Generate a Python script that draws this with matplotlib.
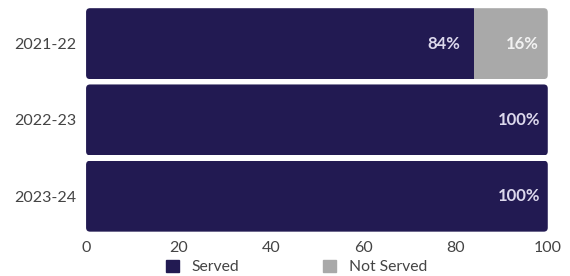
import matplotlib.pyplot as plt
from matplotlib.patches import FancyBboxPatch, Patch

plt.rcParams['font.family'] = ['Lato', 'DejaVu Sans']

years = ['2021-22', '2022-23', '2023-24']
served = [84, 100, 100]
not_served = [16, 0, 0]
served_labels = ['84%', '100%', '100%']
not_served_labels = ['16%', '', '']

navy = '#221a52'
grey = '#a9a9a9'

fig = plt.figure(figsize=(5.7, 2.76), dpi=100)
ax = fig.add_axes([0.151, 0.151, 0.81, 0.829])

ypos = range(len(years))
h = 0.93
b1 = ax.barh(ypos, served, height=h, color=navy, edgecolor='none')
b2 = ax.barh(ypos, not_served, left=served, height=h, color=grey, edgecolor='none')

ax.set_xlim(0, 100)
ax.set_ylim(2.5, -0.5)

# rounded outline per row, used as clip path
fig.canvas.draw()
x_per_px = 100 / ax.bbox.width
y_per_px = 3 / ax.bbox.height
r_px = 4
for i in ypos:
    total = served[i] + not_served[i]
    box = FancyBboxPatch((0, i - h / 2), total, h,
                         boxstyle=f'round,pad=0,rounding_size={r_px * x_per_px}',
                         mutation_aspect=y_per_px / x_per_px,
                         transform=ax.transData, facecolor='none', edgecolor='none')
    ax.add_patch(box)
    b1[i].set_clip_path(box)
    b2[i].set_clip_path(box)

# value labels
for i in ypos:
    pad = 3 if not_served[i] else 1.6
    ax.text(served[i] - pad, i, served_labels[i], ha='right', va='center',
            color='#dcd8ec', fontsize=12, fontweight='bold')
    if not_served[i]:
        ax.text(served[i] + not_served[i] - 2, i, not_served_labels[i],
                ha='right', va='center', color='#f2f2f2', fontsize=12,
                fontweight='bold')

ax.set_yticks(list(ypos))
ax.set_yticklabels(years)
ax.set_xticks([0, 20, 40, 60, 80, 100])
ax.tick_params(length=0, labelsize=11.5, colors='#444444', pad=5)
ax.tick_params(axis='y', pad=7)
for s in ax.spines.values():
    s.set_visible(False)

handles = [Patch(color=navy, label='Served'), Patch(color=grey, label='Not Served')]
fig.legend(handles=handles, loc='lower center', bbox_to_anchor=(0.52, -0.045), ncol=2,
           frameon=False, fontsize=11.3, handlelength=0.85, handleheight=0.85,
           columnspacing=5.3, labelcolor='#444444')

fig.savefig('out.png', dpi=100)
